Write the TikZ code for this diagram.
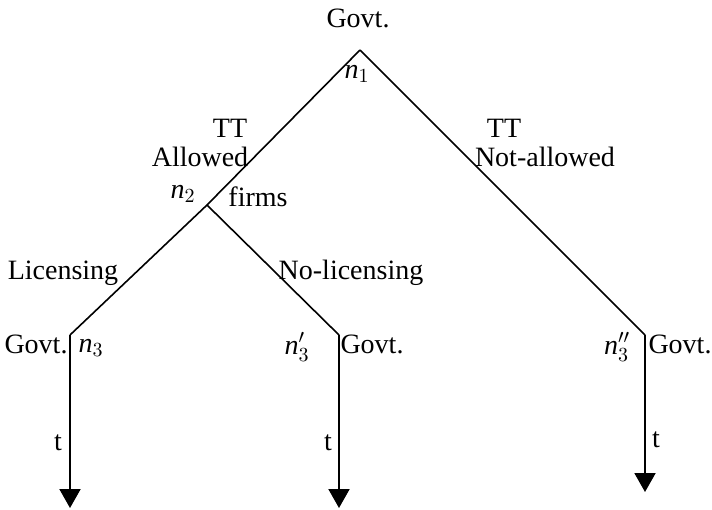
\documentclass[tikz,border=0pt]{standalone}
\usepackage{fontspec}
\setmainfont{Liberation Serif}
\usetikzlibrary{arrows.meta}

\begin{document}
\begin{tikzpicture}[x=0.5pt,y=-0.5pt,
      lbl/.style={inner sep=0pt,font=\fontsize{14}{16}\selectfont},
      branch/.style={line width=0.8pt},
      timeline/.style={line width=1pt,-{Triangle[length=9.5pt,width=10.5pt]}}]
    \useasboundingbox (0,0) rectangle (712,509);
    % decision points
    \coordinate (n1) at (360,50);
    \coordinate (n2) at (207,205);
    \coordinate (n3) at (70,335);
    \coordinate (n3p) at (339,335);
    \coordinate (n3pp) at (645,335);
    \coordinate (e3) at (70,508);
    \coordinate (e3p) at (339,508);
    \coordinate (e3pp) at (645,492);
    % branches
    \draw[branch] (n1) -- (n2);
    \draw[branch] (n1) -- (n3pp);
    \draw[branch] (n2) -- (n3);
    \draw[branch] (n2) -- (n3p);
    \draw[timeline] (n3) -- (e3);
    \draw[timeline] (n3p) -- (e3p);
    \draw[timeline] (n3pp) -- (e3pp);
    % labels
    \node[lbl] (govt1) at (358,18) {Govt.};
    \node[lbl] (l1) at (357,74) {$\mathit{n}_1$};
    \node[lbl] (tta) at (230,128) {TT};
    \node[lbl] (allow) at (200,157) {Allowed};
    \node[lbl] (ttn) at (504,128) {TT};
    \node[lbl] (nallow) at (545,157) {Not-allowed};
    \node[lbl] (l2) at (183,194) {$\mathit{n}_2$};
    \node[lbl] (firms) at (258,197) {firms};
    \node[lbl] (lic) at (63,273) {Licensing};
    \node[lbl] (nolic) at (351,273) {No-licensing};
    \node[lbl] (govt3) at (36,344) {Govt.};
    \node[lbl] (l3) at (91,348) {$\mathit{n}_3$};
    \node[lbl] (l3p) at (297,347) {$\mathit{n}_3'$};
    \node[lbl] (govt3p) at (372,344) {Govt.};
    \node[lbl] (l3pp) at (617,347) {$\mathit{n}_3''$};
    \node[lbl] (govt3pp) at (680,344) {Govt.};
    \node[lbl] (t3) at (58,443) {t};
    \node[lbl] (t3p) at (328,443) {t};
    \node[lbl] (t3pp) at (656,440) {t};
  \end{tikzpicture}
\end{document}
